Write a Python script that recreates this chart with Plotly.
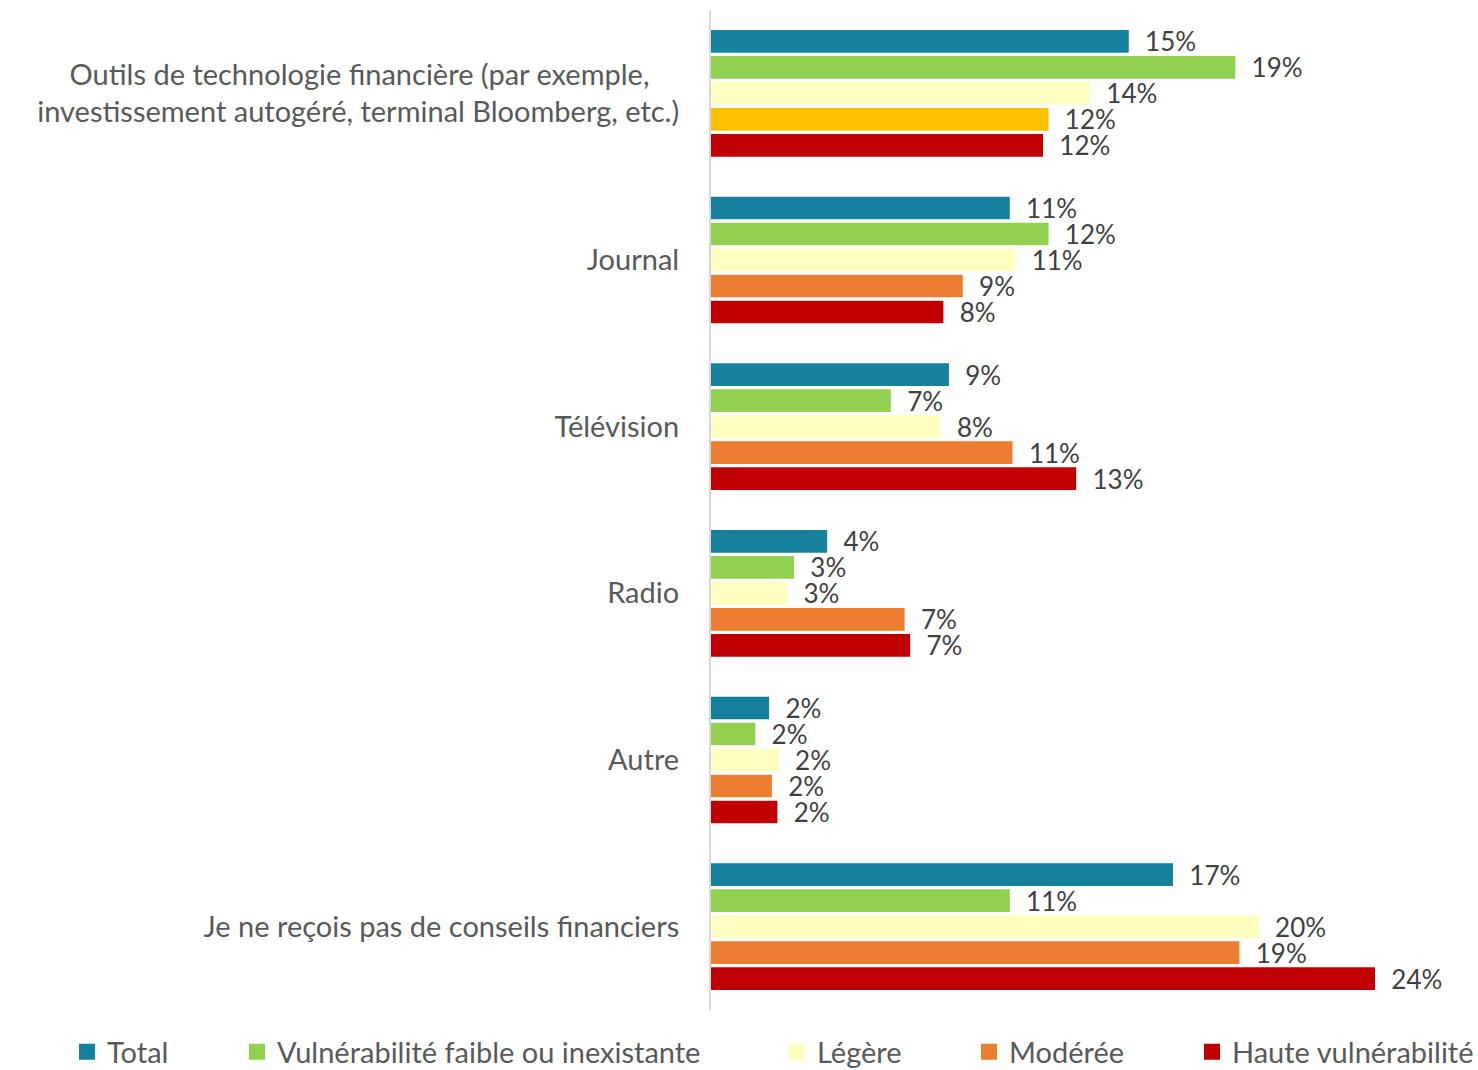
import plotly.graph_objects as go

categories = [
    "Outils de technologie financière (par exemple,\u00a0\u00a0\u00a0\u00a0<br>investissement autogéré, terminal Bloomberg, etc.)",
    "Journal",
    "Télévision",
    "Radio",
    "Autre",
    "Je ne reçois pas de conseils financiers",
]

series_names = ["Total", "Vulnérabilité faible ou inexistante", "Légère", "Modérée", "Haute vulnérabilité"]

total = [15.1, 10.8, 8.6, 4.2, 2.1, 16.7]
faible = [18.95, 12.2, 6.5, 3.0, 1.6, 10.8]
legere = [13.7, 11.0, 8.3, 2.75, 2.45, 19.8]
moderee = [12.2, 9.1, 10.9, 7.0, 2.2, 19.1]
haute = [12.0, 8.4, 13.2, 7.2, 2.4, 24.0]

values = [total, faible, legere, moderee, haute]
colors = ["#16819C", "#92D050", "#FFFFC0", "#ED7D31", "#C00000"]
# first category's "Modérée" bar is drawn in gold in the original
moderee_colors = ["#FFC000"] + ["#ED7D31"] * 5

legend_centers = [87, 257, 797, 989, 1212]

FONT = "Lato, 'Open Sans', sans-serif"
W, H = 1478, 1070

fig = go.Figure()
for i, (name, vals) in enumerate(zip(series_names, values)):
    col = moderee_colors if name == "Modérée" else colors[i]
    fig.add_trace(go.Bar(
        y=categories, x=vals, name=name, orientation="h",
        marker=dict(color=col, line=dict(width=0)),
        texttemplate="  %{x:.0f}%", textposition="outside", cliponaxis=False,
        constraintext="none",
        textfont=dict(family=FONT, size=26, color="#404040"),
        showlegend=False,
    ))

# legend entries (square swatches in the series colours)
for i, name in enumerate(series_names):
    lname = "legend" if i == 0 else f"legend{i+1}"
    fig.add_trace(go.Scatter(
        x=[None], y=[None], mode="markers", name=name,
        marker=dict(symbol="square", size=18, color=colors[i]),
        legend=lname, showlegend=True, hoverinfo="skip",
    ))

layout_legends = {}
for i, cx in enumerate(legend_centers):
    lname = "legend" if i == 0 else f"legend{i+1}"
    layout_legends[lname] = dict(
        xref="container", yref="container",
        x=(cx - 20) / W, y=1 - 1052 / H, xanchor="left", yanchor="middle",
        orientation="h", bgcolor="rgba(0,0,0,0)", borderwidth=0,
        font=dict(family=FONT, size=29, color="#595959"),
    )

fig.update_layout(
    width=W, height=H,
    margin=dict(l=711, r=20, t=10, b=60),
    paper_bgcolor="white", plot_bgcolor="white",
    barmode="group", bargap=0.22, bargroupgap=0.13,
    font=dict(family=FONT, color="#595959"),
    showlegend=True,
    xaxis=dict(range=[0, 27], visible=False, showgrid=False, zeroline=False),
    yaxis=dict(autorange="reversed", showline=True, linecolor="#D9D9D9", linewidth=2,
               ticks="", showgrid=False, ticklabelstandoff=24,
               tickfont=dict(family=FONT, size=29, color="#595959")),
    **layout_legends,
)

fig.write_html("out.html")
